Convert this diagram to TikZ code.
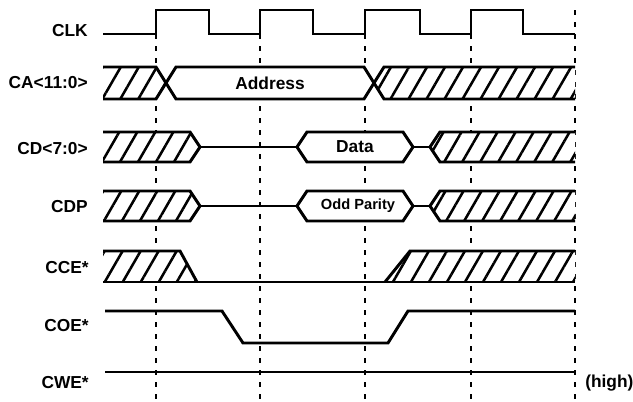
\documentclass[tikz,border=0pt]{standalone}
\usepackage{fontspec}
\setmainfont{Liberation Sans}
\usetikzlibrary{patterns.meta}
\tikzset{
signal/.style={line width=2.2pt, line join=miter}, % the wave lines
grid line/.style={line width=1.3pt, dash pattern=on 4pt off 5pt}, % marks of the clock edges
hatch/.style={preaction={fill=white}, pattern={Lines[angle=60, distance=11.7pt, line width=1.9pt]}}, % bus value not valid
valid/.style={fill=white}, % bus value valid
signame/.style={anchor=east, inner sep=0pt, font=\bfseries\fontsize{13}{15}\selectfont}, % signal names
value/.style={inner sep=0pt, font=\bfseries\fontsize{13}{15}\selectfont}, % bus values
}

\begin{document}
\begin{tikzpicture}[x=0.75pt, y=-0.75pt]
\useasboundingbox (0,0) rectangle (633,401);
\foreach \t in {156, 260, 365, 471, 575}
  \draw[grid line] (\t,10) -- (\t,401);

\node[signame] (clk) at (88,31) {CLK};
\node[signame] (ca) at (88,83) {CA<11:0>};
\node[signame] (cd) at (88,149) {CD<7:0>};
\node[signame] (cdp) at (88,207) {CDP};
\node[signame] (cce) at (89,268) {CCE*};
\node[signame] (coe) at (89,326) {COE*};
\node[signame] (cwe) at (89,383) {CWE*};
\node[signame, anchor=west] (high) at (585,383) {(high)};

% CLK
\draw[signal] (103,34) -| (156,10) -| (209,34) -| (260,10) -| (313,34) -| (365,10)
  -| (420,34) -| (471,10) -| (523,34) -- (575,34);

% CA<11:0>
\fill[hatch] (103,67) -- (156,67) -- (166,83) -- (156,99) -- (103,99) -- cycle;
\fill[hatch] (374,83) -- (384,67) -- (575,67) -- (575,99) -- (384,99) -- cycle;
\fill[valid] (166,83) -- (176,67) -- (364,67) -- (374,83) -- (364,99) -- (176,99) -- cycle;
\draw[signal] (103,67) -- (156,67) -- (176,99) -- (364,99) -- (384,67) -- (575,67);
\draw[signal] (103,99) -- (156,99) -- (176,67) -- (364,67) -- (384,99) -- (575,99);
\node[value] (address) at (270,83) {Address};

% CD<7:0>
\fill[hatch] (103,132) -- (190,132) -- (200,147) -- (190,162) -- (103,162) -- cycle;
\draw[signal] (103,132) -- (190,132) -- (200,147) -- (190,162) -- (103,162);
\draw[signal, valid] (297,147) -- (307,132) -- (403,132) -- (413,147) -- (403,162) -- (307,162) -- cycle;
\draw[signal] (200,147) -- (297,147) (413,147) -- (430,147);
\fill[hatch] (430,147) -- (440,132) -- (575,132) -- (575,162) -- (440,162) -- cycle;
\draw[signal] (575,132) -- (440,132) -- (430,147) -- (440,162) -- (575,162);
\node[value] (data) at (355,147) {Data};

% CDP
\fill[hatch] (103,191) -- (190,191) -- (200,206) -- (190,221) -- (103,221) -- cycle;
\draw[signal] (103,191) -- (190,191) -- (200,206) -- (190,221) -- (103,221);
\draw[signal, valid] (297,206) -- (307,191) -- (403,191) -- (413,206) -- (403,221) -- (307,221) -- cycle;
\draw[signal] (200,206) -- (297,206) (413,206) -- (430,206);
\fill[hatch] (430,206) -- (440,191) -- (575,191) -- (575,221) -- (440,221) -- cycle;
\draw[signal] (575,191) -- (440,191) -- (430,206) -- (440,221) -- (575,221);
\node[value, font=\bfseries\fontsize{11}{13}\selectfont] (parity) at (358,206) {Odd Parity};

% CCE*
\fill[hatch] (103,251) -- (180,251) -- (197,282) -- (103,282) -- cycle;
\fill[hatch] (385,282) -- (410,251) -- (575,251) -- (575,282) -- cycle;
\draw[signal] (103,251) -- (180,251) -- (197,282);
\draw[signal] (385,282) -- (410,251) -- (575,251);
\draw[signal] (103,282) -- (575,282);

% COE*
\draw[signal] (105,311) -- (222,311) -- (243,343) -- (388,343) -- (408,311) -- (575,311);

% CWE*
\draw[signal] (105,372) -- (575,372);
\end{tikzpicture}
\end{document}
